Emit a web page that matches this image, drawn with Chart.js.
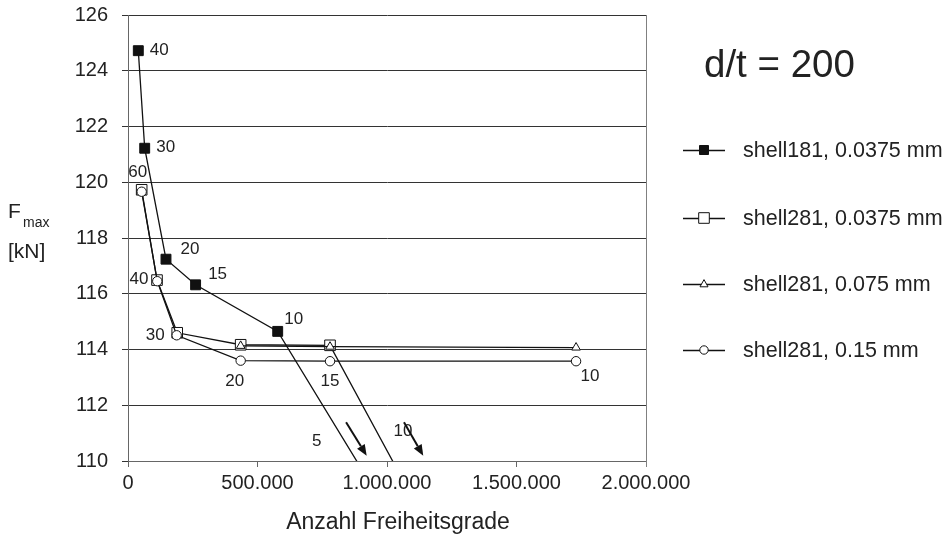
<!DOCTYPE html>
<html>
<head>
<meta charset="utf-8">
<script src="https://cdn.jsdelivr.net/npm/chart.js@4.4.1/dist/chart.umd.min.js"></script>
<style>
  html, body { margin: 0; padding: 0; background: #fff; }
</style>
</head>
<body>
<canvas id="chart" width="950" height="546"></canvas>
<script>
// Series names (legend)
const seriesNames = ["shell181, 0.0375 mm", "shell281, 0.0375 mm", "shell281, 0.075 mm", "shell281, 0.15 mm"];

// shell181, 0.0375 mm (filled squares) - last point lies below the axis
const shell181X = [39800, 64500, 146700, 261000, 578000, 1211000];
const shell181Y = [124.72, 121.22, 117.24, 116.32, 114.65, 105.0];
const shell181Labels = ["40", "30", "20", "15", "10", ""];

// shell281, 0.0375 mm (open squares) - last point lies below the axis
const shell281aX = [52800, 112000, 190000, 435000, 780000, 1313000];
const shell281aY = [119.73, 116.49, 114.60, 114.17, 114.15, 105.0];
const shell281aLabels = ["60", "40", "30", "", "", ""];

// shell281, 0.075 mm (open triangles)
const shell281bX = [435000, 780000, 1730000];
const shell281bY = [114.13, 114.10, 114.07];

// shell281, 0.15 mm (open circles)
const shell281cX = [52800, 113000, 188000, 435000, 780000, 1730000];
const shell281cY = [119.66, 116.45, 114.51, 113.60, 113.58, 113.58];
const shell281cLabels = ["", "", "", "20", "15", "10"];

// labels and arrows for the points outside the plot
const offLabels = ["5", "10"];
const offLabelX = [728600, 1061800];
const offLabelY = [110.70, 111.08];
const arrowFromX = [842000, 1065600];
const arrowFromY = [111.39, 111.39];
const arrowToX = [921600, 1140000];
const arrowToY = [110.19, 110.19];

// axis ticks
const yMin = 110, yMax = 126, yStep = 2;
const xMin = 0, xMax = 2000000, xStep = 500000;

const FONT = '"Liberation Sans", Arial, Helvetica, sans-serif';
const INK = "#222";

const toXY = (xs, ys) => xs.map((v, i) => ({ x: v, y: ys[i] }));

// label offsets in pixels, per dataset point
const labelOffsets = {
  0: [[21, 0], [21, -1], [24, -10], [22, -11], [16, -12], null],
  1: [[-4, -17], [-18, -1], [-22, 3], null, null, null],
  3: [null, null, null, [-6, 21], [0, 20], [14, 15]]
};
const labelTexts = { 0: shell181Labels, 1: shell281aLabels, 3: shell281cLabels };

function marker(ctx, style, cx, cy, r, filled) {
  ctx.beginPath();
  if (style === "rect") {
    ctx.rect(cx - r, cy - r, 2 * r, 2 * r);
  } else if (style === "triangle") {
    ctx.moveTo(cx, cy - r * 1.1);
    ctx.lineTo(cx + r, cy + r * 0.7);
    ctx.lineTo(cx - r, cy + r * 0.7);
    ctx.closePath();
  } else {
    ctx.arc(cx, cy, r, 0, Math.PI * 2);
  }
  ctx.fillStyle = filled ? "#111" : "#fff";
  ctx.fill();
  ctx.lineWidth = 1;
  ctx.strokeStyle = "#111";
  ctx.stroke();
}

const overlay = {
  id: "overlay",
  afterDatasetsDraw(chart) {
    const { ctx, chartArea: a } = chart;
    const xs = chart.scales.x, ys = chart.scales.y;
    ctx.save();

    // right border of plot
    ctx.strokeStyle = "#808080";
    ctx.lineWidth = 1;
    ctx.beginPath();
    ctx.moveTo(Math.round(a.right) + 0.5, a.top);
    ctx.lineTo(Math.round(a.right) + 0.5, a.bottom + 6);
    ctx.stroke();

    // point labels
    ctx.font = "17px " + FONT;
    ctx.fillStyle = INK;
    ctx.textAlign = "center";
    ctx.textBaseline = "middle";
    Object.keys(labelTexts).forEach(k => {
      const meta = chart.getDatasetMeta(+k);
      labelTexts[k].forEach((t, i) => {
        const off = labelOffsets[k][i];
        if (!t || !off) return;
        const el = meta.data[i];
        ctx.fillText(t, el.x + off[0], el.y + off[1]);
      });
    });
    offLabels.forEach((t, i) => {
      ctx.fillText(t, xs.getPixelForValue(offLabelX[i]), ys.getPixelForValue(offLabelY[i]));
    });

    // arrows
    ctx.strokeStyle = "#111";
    ctx.fillStyle = "#111";
    ctx.lineWidth = 2;
    arrowFromX.forEach((v, i) => {
      const x1 = xs.getPixelForValue(v), y1 = ys.getPixelForValue(arrowFromY[i]);
      const x2 = xs.getPixelForValue(arrowToX[i]), y2 = ys.getPixelForValue(arrowToY[i]);
      const ang = Math.atan2(y2 - y1, x2 - x1);
      const hl = 11, hw = 4.5;
      const bx = x2 - hl * Math.cos(ang), by = y2 - hl * Math.sin(ang);
      ctx.beginPath();
      ctx.moveTo(x1, y1);
      ctx.lineTo(bx, by);
      ctx.stroke();
      ctx.beginPath();
      ctx.moveTo(x2, y2);
      ctx.lineTo(bx + hw * Math.sin(ang), by - hw * Math.cos(ang));
      ctx.lineTo(bx - hw * Math.sin(ang), by + hw * Math.cos(ang));
      ctx.closePath();
      ctx.fill();
    });
    ctx.restore();
  },
  afterDraw(chart) {
    const { ctx } = chart;
    ctx.save();
    ctx.fillStyle = INK;
    ctx.textBaseline = "alphabetic";

    // y axis title
    ctx.textAlign = "left";
    ctx.font = "21px " + FONT;
    ctx.fillText("F", 8, 218);
    ctx.font = "14px " + FONT;
    ctx.fillText("max", 23, 227);
    ctx.font = "21px " + FONT;
    ctx.fillText("[kN]", 8, 258);

    // x axis title
    ctx.textAlign = "center";
    ctx.font = "23px " + FONT;
    ctx.fillText("Anzahl Freiheitsgrade", 398, 529);

    // d/t
    ctx.textAlign = "left";
    ctx.font = "38.5px " + FONT;
    ctx.fillText("d/t = 200", 704, 77);

    // legend
    const styles = ["rect", "rect", "triangle", "circle"];
    const fills = [true, false, false, false];
    const sizes = [4.5, 5.3, 4, 4.2];
    const rows = [150, 218, 284, 350];
    ctx.font = "21.5px " + FONT;
    ctx.textBaseline = "middle";
    seriesNames.forEach((n, i) => {
      const cy = rows[i];
      ctx.strokeStyle = "#111";
      ctx.lineWidth = 1.3;
      ctx.beginPath();
      ctx.moveTo(683, cy + 0.5);
      ctx.lineTo(725, cy + 0.5);
      ctx.stroke();
      marker(ctx, styles[i], 704, cy, sizes[i], fills[i]);
      ctx.fillStyle = INK;
      ctx.fillText(n, 743, cy + 1);
    });
    ctx.restore();
  }
};

const lineBase = {
  borderColor: "#111",
  borderWidth: 1.3,
  pointBorderColor: "#111",
  pointBorderWidth: 1,
  tension: 0,
  fill: false,
  showLine: true
};

new Chart(document.getElementById("chart"), {
  type: "scatter",
  data: {
    datasets: [
      { ...lineBase, label: seriesNames[0], data: toXY(shell181X, shell181Y),
        pointStyle: "rect", pointRadius: 7, pointBackgroundColor: "#111", order: 3 },
      { ...lineBase, label: seriesNames[1], data: toXY(shell281aX, shell281aY),
        pointStyle: "rect", pointRadius: 7.5, pointBackgroundColor: "#fff", order: 2 },
      { ...lineBase, label: seriesNames[2], data: toXY(shell281bX, shell281bY),
        pointStyle: "triangle", pointRadius: 5, pointBackgroundColor: "#fff", order: 1 },
      { ...lineBase, label: seriesNames[3], data: toXY(shell281cX, shell281cY),
        pointStyle: "circle", pointRadius: 4.7, pointBackgroundColor: "#fff", order: 0 }
    ]
  },
  options: {
    responsive: false,
    animation: false,
    layout: { padding: { top: 15, right: 304, left: 0, bottom: 0 } },
    plugins: {
      legend: { display: false },
      tooltip: { enabled: false }
    },
    scales: {
      x: {
        type: "linear",
        min: xMin,
        max: xMax,
        afterFit: s => { s.height = 85; s.paddingLeft = 0; s.paddingRight = 0; },
        ticks: {
          stepSize: xStep,
          color: INK,
          font: { family: FONT, size: 20 },
          padding: 4,
          maxRotation: 0,
          callback: v => String(v).replace(/\B(?=(\d{3})+(?!\d))/g, ".")
        },
        grid: { drawOnChartArea: false, drawTicks: true, tickLength: 6, color: "#666" },
        border: { color: "#666", width: 1 }
      },
      y: {
        min: yMin,
        max: yMax,
        afterFit: s => { s.width = 128; s.paddingTop = 0; s.paddingBottom = 0; },
        ticks: {
          stepSize: yStep,
          color: INK,
          font: { family: FONT, size: 20 },
          padding: 14
        },
        grid: { color: "#333", lineWidth: 1, tickLength: 6 },
        border: { color: "#666", width: 1 }
      }
    }
  },
  plugins: [overlay]
});
</script>
</body>
</html>
